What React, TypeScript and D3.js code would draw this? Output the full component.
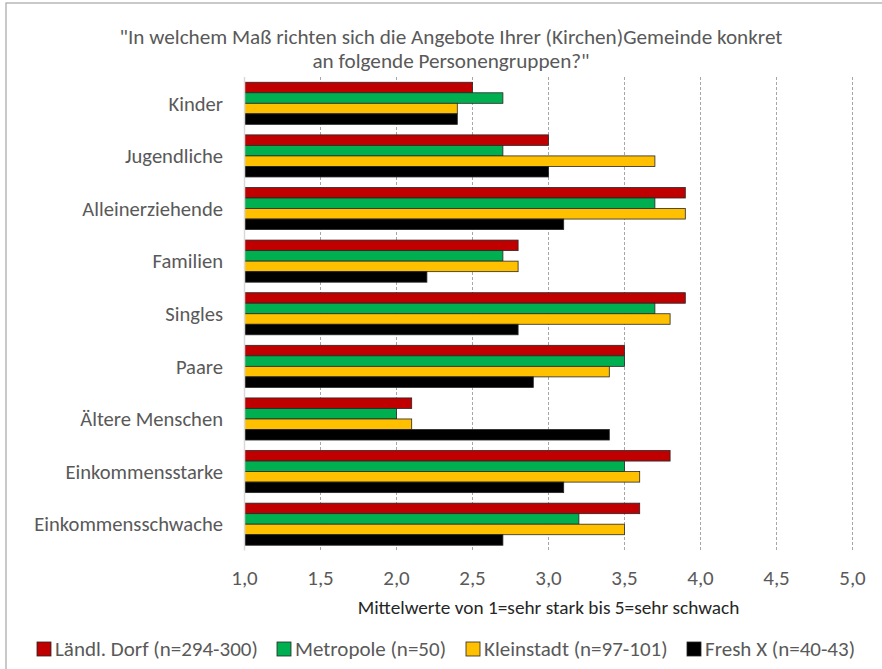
import React from "react";
import * as d3 from "d3";

const categories = [
  "Kinder",
  "Jugendliche",
  "Alleinerziehende",
  "Familien",
  "Singles",
  "Paare",
  "Ältere Menschen",
  "Einkommensstarke",
  "Einkommensschwache",
];

const seriesNames = [
  "Ländl. Dorf (n=294-300)",
  "Metropole (n=50)",
  "Kleinstadt (n=97-101)",
  "Fresh X (n=40-43)",
];

const dorf = [2.5, 3.0, 3.9, 2.8, 3.9, 3.5, 2.1, 3.8, 3.6];
const metropole = [2.7, 2.7, 3.7, 2.7, 3.7, 3.5, 2.0, 3.5, 3.2];
const kleinstadt = [2.4, 3.7, 3.9, 2.8, 3.8, 3.4, 2.1, 3.6, 3.5];
const freshX = [2.4, 3.0, 3.1, 2.2, 2.8, 2.9, 3.4, 3.1, 2.7];

const seriesValues = [dorf, metropole, kleinstadt, freshX];
const seriesColors = ["#C00000", "#00B050", "#FFC000", "#000000"];

const xTicks = [1.0, 1.5, 2.0, 2.5, 3.0, 3.5, 4.0, 4.5, 5.0];

const titleLines = [
  "\"In welchem Maß richten sich die Angebote Ihrer (Kirchen)Gemeinde konkret",
  "an folgende Personengruppen?\"",
];
const axisTitle = "Mittelwerte von 1=sehr stark bis 5=sehr schwach";

const W = 882;
const H = 669;
const FONT = "Carlito, Calibri, Lato, 'Open Sans', sans-serif";
const TXT = "#595959";

export default function App() {
  const x = d3.scaleLinear().domain([1, 5]).range([244.5, 852.5]);
  const y = d3
    .scaleBand<string>()
    .domain(categories)
    .range([77, 550.5])
    .paddingInner(0.2)
    .paddingOuter(0.1);
  const ySub = d3
    .scaleBand<number>()
    .domain(d3.range(seriesNames.length))
    .range([0, y.bandwidth()]);

  const legendX = [37, 277, 466, 687];

  return (
    <svg
      width={W}
      height={H}
      style={{ position: "absolute", left: 0, top: 0, background: "#fff" }}
      fontFamily={FONT}
    >
      <rect x={0} y={0} width={W} height={H} fill="#fff" />
      <rect x={6} y={3} width={W + 20} height={H + 20} fill="none" stroke="#a6a6a6" strokeWidth={1.2} />

      {titleLines.map((t, i) => (
        <text
          key={i}
          x={451}
          y={44 + i * 23.5}
          textAnchor="middle"
          fontSize={21.2}
          fill={TXT}
        >
          {t}
        </text>
      ))}

      {xTicks.slice(1).map((t) => (
        <line
          key={t}
          x1={x(t)}
          x2={x(t)}
          y1={77}
          y2={550.5}
          stroke="#a6a6a6"
          strokeWidth={1}
          strokeDasharray="3,2"
        />
      ))}

      {categories.map((c, ci) => (
        <g key={c} transform={`translate(0,${y(c)})`}>
          {seriesValues.map((vals, si) => (
            <rect
              key={si}
              x={x(1)}
              y={ySub(si)}
              width={x(vals[ci]) - x(1)}
              height={ySub.bandwidth()}
              fill={seriesColors[si]}
              stroke="#262626"
              strokeWidth={0.8}
            />
          ))}
        </g>
      ))}

      <line x1={x(1)} x2={x(1)} y1={77} y2={550.5} stroke="#d9d9d9" strokeWidth={1.5} />

      {categories.map((c) => (
        <text
          key={c}
          x={223}
          y={(y(c) ?? 0) + y.bandwidth() / 2}
          dy="0.35em"
          textAnchor="end"
          fontSize={20.6}
          fill={TXT}
        >
          {c}
        </text>
      ))}

      {xTicks.map((t) => (
        <text
          key={t}
          x={x(t)}
          y={578}
          dy="0.35em"
          textAnchor="middle"
          fontSize={21}
          fill={TXT}
        >
          {d3.format(".1f")(t).replace(".", ",")}
        </text>
      ))}

      <text
        x={(x(1) + x(5)) / 2}
        y={607}
        dy="0.35em"
        textAnchor="middle"
        fontSize={19.3}
        fill="#262626"
      >
        {axisTitle}
      </text>

      {seriesNames.map((s, i) => (
        <g key={s} transform={`translate(${legendX[i]},649)`}>
          <rect x={0} y={-7} width={14} height={14} fill={seriesColors[i]} stroke="#262626" strokeWidth={0.8} />
          <text x={18} y={0} dy="0.35em" fontSize={21} fill={TXT}>
            {s}
          </text>
        </g>
      ))}
    </svg>
  );
}
